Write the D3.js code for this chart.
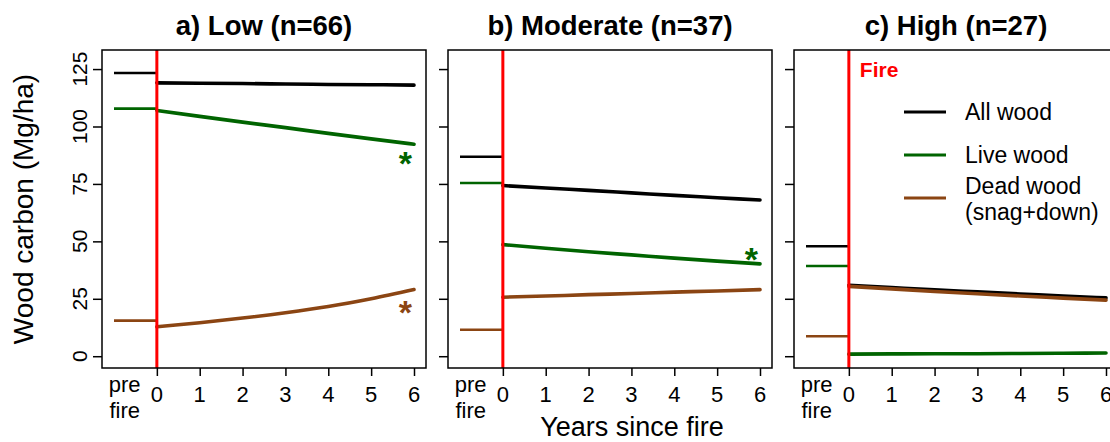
<!DOCTYPE html>
<html>
<head>
<meta charset="utf-8">
<script src="https://cdn.jsdelivr.net/npm/d3@7"></script>
<style>
  body { margin: 0; background: #fff; }
  svg { display: block; font-family: "Liberation Sans", Arial, Helvetica, sans-serif; }
</style>
</head>
<body>
<div id="chart"></div>
<script>
const width = 1110;
const height = 442;

// panels
const panelTitles = ["a) Low (n=66)", "b) Moderate (n=37)", "c) High (n=27)"];
const years = [0, 1, 2, 3, 4, 5, 6];
const yTicks = [0, 25, 50, 75, 100, 125];

// pre-fire means [all, live, dead] per panel
const preAll = [123.3, 86.8, 47.9];
const preLive = [107.8, 75.4, 39.3];
const preDead = [15.5, 11.5, 8.7];

// post-fire fitted trends, years 0..6
const lowAll = [119.0, 118.8, 118.7, 118.5, 118.3, 118.2, 118.0];
const lowLive = [107.0, 104.4, 101.9, 99.5, 97.0, 94.6, 92.3];
const lowDead = [12.8, 14.6, 16.6, 18.9, 21.6, 25.0, 29.0];
const modAll = [74.3, 73.2, 72.2, 71.1, 70.0, 69.0, 68.0];
const modLive = [48.6, 47.0, 45.5, 44.1, 42.7, 41.4, 40.2];
const modDead = [25.7, 26.2, 26.8, 27.3, 27.9, 28.4, 29.0];
const highAll = [30.9, 29.9, 28.9, 28.0, 27.1, 26.2, 25.4];
const highLive = [0.9, 1.0, 1.1, 1.1, 1.2, 1.3, 1.4];
const highDead = [30.4, 29.3, 28.2, 27.2, 26.2, 25.3, 24.4];

// significance stars: [panel, series, value]
const stars = [
  [0, "live", 86.5],
  [0, "dead", 21.3],
  [1, "live", 44.5],
];

const legendLabels = [["All wood"], ["Live wood"], ["Dead wood", "(snag+down)"]];

const colors = { all: "#000000", live: "#006400", dead: "#8B4513" };

const postSeries = [
  { all: lowAll, live: lowLive, dead: lowDead },
  { all: modAll, live: modLive, dead: modDead },
  { all: highAll, live: highLive, dead: highDead },
];
const preSeries = [0, 1, 2].map((i) => ({ all: preAll[i], live: preLive[i], dead: preDead[i] }));

const panelW = 324;
const panelStep = 346;
const firstLeft = 102;
const plotTop = 50;
const plotBottom = 368;

const svg = d3
  .select("#chart")
  .append("svg")
  .attr("width", width)
  .attr("height", height);

const yScale = d3.scaleLinear().domain([-5.13, 133.3]).range([plotBottom, plotTop]);

panelTitles.forEach((title, p) => {
  const left = firstLeft + p * panelStep;
  const xScale = d3.scaleLinear().domain([-1.28, 6.28]).range([left, left + panelW]);
  const g = svg.append("g");

  // title
  g.append("text")
    .attr("x", left + panelW / 2)
    .attr("y", 35)
    .attr("text-anchor", "middle")
    .style("font-size", "27.5px")
    .style("font-weight", "bold")
    .text(title);

  // y axis ticks
  const yAxis = d3.axisLeft(yScale).tickValues(yTicks).tickSize(9).tickFormat("");
  const ya = g.append("g").attr("transform", `translate(${left},0)`).call(yAxis);
  ya.select(".domain").remove();
  ya.selectAll("line").attr("stroke-width", 1.5);

  if (p === 0) {
    g.selectAll(".ylab")
      .data(yTicks)
      .enter()
      .append("text")
      .attr("transform", (d) => `translate(87,${yScale(d)}) rotate(-90)`)
      .attr("text-anchor", "middle")
      .style("font-size", "21px")
      .text((d) => d);
  }

  // x axis
  const xAxis = d3.axisBottom(xScale).tickValues(years).tickSize(8).tickFormat("");
  const xa = g.append("g").attr("transform", `translate(0,${plotBottom})`).call(xAxis);
  xa.select(".domain").remove();
  xa.selectAll("line").attr("stroke-width", 1.5);

  g.selectAll(".xlab")
    .data(years)
    .enter()
    .append("text")
    .attr("x", (d) => xScale(d))
    .attr("y", 402)
    .attr("text-anchor", "middle")
    .style("font-size", "22px")
    .text((d) => d);

  g.append("text")
    .attr("x", xScale(-0.75))
    .attr("y", 392)
    .attr("text-anchor", "middle")
    .style("font-size", "22px")
    .text("pre");
  g.append("text")
    .attr("x", xScale(-0.75))
    .attr("y", 418)
    .attr("text-anchor", "middle")
    .style("font-size", "22px")
    .text("fire");

  // pre-fire segments
  ["all", "live", "dead"].forEach((k) => {
    g.append("line")
      .attr("x1", xScale(-1))
      .attr("x2", xScale(0))
      .attr("y1", yScale(preSeries[p][k]))
      .attr("y2", yScale(preSeries[p][k]))
      .attr("stroke", colors[k])
      .attr("stroke-width", 2.6);
  });

  // post-fire trends
  const line = d3
    .line()
    .x((d, i) => xScale(years[i]))
    .y((d) => yScale(d))
    .curve(d3.curveMonotoneX);

  ["all", "live", "dead"].forEach((k) => {
    g.append("path")
      .attr("d", line(postSeries[p][k]))
      .attr("fill", "none")
      .attr("stroke", colors[k])
      .attr("stroke-width", 3.6)
      .attr("stroke-linecap", "round");
  });

  // fire line
  g.append("line")
    .attr("x1", xScale(0))
    .attr("x2", xScale(0))
    .attr("y1", plotTop)
    .attr("y2", plotBottom)
    .attr("stroke", "#FF0000")
    .attr("stroke-width", 3);

  // stars
  stars
    .filter((s) => s[0] === p)
    .forEach((s) => {
      g.append("text")
        .attr("x", xScale(5.8))
        .attr("y", yScale(s[2]) + 17)
        .attr("text-anchor", "middle")
        .style("font-size", "34px")
        .style("font-weight", "bold")
        .attr("fill", colors[s[1]])
        .text("*");
    });

  // box
  g.append("rect")
    .attr("x", left)
    .attr("y", plotTop)
    .attr("width", panelW)
    .attr("height", plotBottom - plotTop)
    .attr("fill", "none")
    .attr("stroke", "#000")
    .attr("stroke-width", 1.5);

  if (p === 2) {
    g.append("text")
      .attr("x", xScale(0) + 11)
      .attr("y", 77)
      .attr("fill", "#FF0000")
      .style("font-size", "21px")
      .style("font-weight", "bold")
      .text("Fire");

    const legendY = [112, 155, 198];
    const lg = g.append("g");
    legendLabels.forEach((lab, i) => {
      lg.append("line")
        .attr("x1", 904)
        .attr("x2", 946)
        .attr("y1", legendY[i])
        .attr("y2", legendY[i])
        .attr("stroke", colors[["all", "live", "dead"][i]])
        .attr("stroke-width", 3);
      lab.forEach((t, j) => {
        lg.append("text")
          .attr("x", 965)
          .attr("y", (lab.length === 1 ? legendY[i] + 8 : legendY[i] - 4 + j * 26))
          .style("font-size", "23px")
          .text(t);
      });
    });
  }
});

// axis titles
svg.append("text")
  .attr("transform", "translate(33,209) rotate(-90)")
  .attr("text-anchor", "middle")
  .style("font-size", "28px")
  .text("Wood carbon (Mg/ha)");

svg.append("text")
  .attr("x", 632)
  .attr("y", 436)
  .attr("text-anchor", "middle")
  .style("font-size", "27px")
  .text("Years since fire");
</script>
</body>
</html>
